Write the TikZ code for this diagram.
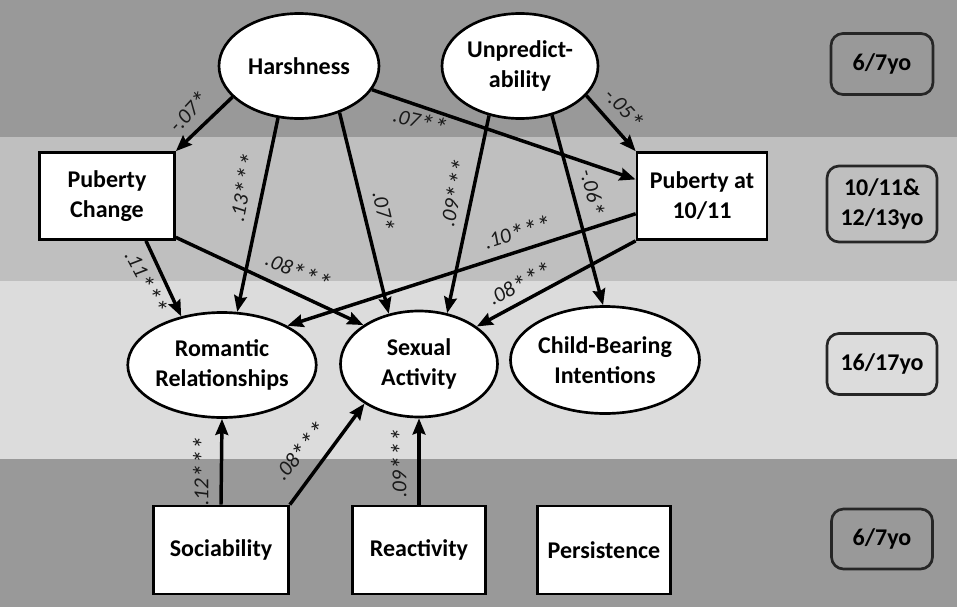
\documentclass[tikz,border=0pt]{standalone}
\usepackage{fontspec}
\setmainfont{Carlito}
\usetikzlibrary{shapes.geometric,arrows.meta}
\definecolor{bandA}{HTML}{999999}
\definecolor{bandB}{HTML}{BFBFBF}
\definecolor{bandC}{HTML}{DCDCDC}
\newcommand{\stars}[1]{\raisebox{-3.5pt}{\fontsize{21}{21}\selectfont #1}}
\begin{document}
\begin{tikzpicture}[x=0.75pt,y=-0.75pt,
  latent/.style={ellipse,draw=black,line width=2pt,fill=white,inner sep=0pt,align=center,font=\bfseries\fontsize{18}{22.5}\selectfont},
  observed/.style={rectangle,draw=black,line width=2pt,fill=white,inner sep=0pt,align=center,font=\bfseries\fontsize{18}{22.5}\selectfont},
  agebox/.style={rectangle,rounded corners=9pt,draw=black!85,line width=2pt,inner sep=0pt,align=center,font=\bfseries\fontsize{18}{22.5}\selectfont},
  arr/.style={line width=2.6pt,-{Stealth[length=12pt,width=9.5pt,inset=1.5pt]}},
  coef/.style={font=\itshape\fontsize{16}{18}\selectfont,text=black!90,inner sep=0pt}
]
\useasboundingbox (0,0) rectangle (957,607);
% bands
\fill[bandA] (0,0) rectangle (957,137);
\fill[bandB] (0,137) rectangle (957,281);
\fill[bandC] (0,281) rectangle (957,459);
\fill[bandA] (0,459) rectangle (957,607);

% nodes
\node[latent,minimum width=120pt,minimum height=78.75pt] (harsh) at (299,66) {Harshness};
\node[latent,minimum width=117pt,minimum height=78.75pt] (unpred) at (520,66) {Unpredict-\\ability};
\node[observed,minimum width=101.25pt,minimum height=65.25pt] (pubch) at (107,196) {Puberty\\Change};
\node[observed,minimum width=97.5pt,minimum height=65.25pt] (pub) at (702,196) {Puberty at\\10/11};
\node[latent,minimum width=120pt,minimum height=78.75pt] (rom) at (222,365) {Romantic\\Relationships};
\node[latent,minimum width=117.75pt,minimum height=79.5pt] (sex) at (419,364) {Sexual\\Activity};
\node[latent,minimum width=117pt,minimum height=80.25pt] (child) at (605,360) {Child-Bearing\\Intentions};
\node[observed,minimum width=101.25pt,minimum height=66pt] (soc) at (221,550) {Sociability};
\node[observed,minimum width=99.75pt,minimum height=66pt] (react) at (419,550) {Reactivity};
\node[observed,minimum width=99.75pt,minimum height=66pt] (pers) at (604,550) {Persistence};

\node[agebox,minimum width=76.5pt,minimum height=45.75pt] (age1) at (882,64) {6/7yo};
\node[agebox,minimum width=82.5pt,minimum height=57pt] (age2) at (882,204) {10/11\&\\12/13yo};
\node[agebox,minimum width=82.5pt,minimum height=45.75pt] (age3) at (882,364) {16/17yo};
\node[agebox,minimum width=75.75pt,minimum height=45pt] (age4) at (882,539) {6/7yo};

% paths
\draw[arr] (harsh.-155) -- (pubch.north east);
\draw[arr] (harsh.-112) -- (rom.74);
\draw[arr] (harsh.-49) -- (sex.121);
\draw[arr] (harsh.-18) -- (pub.166);
\draw[arr] (unpred.-24) -- (pub.north west);
\draw[arr] (unpred.-122) -- (sex.61);
\draw[arr] (unpred.-57) -- (child.92);
\draw[arr] (pubch.-49) -- (rom.130);
\draw[arr] (pubch.-31) -- (sex.145);
\draw[arr] (pub.-165) -- (rom.31);
\draw[arr] (pub.south west) -- (sex.33);
\draw[arr] (soc.north) -- (rom.south);
\draw[arr] (soc.north east) -- (sex.-144);
\draw[arr] (react.north) -- (sex.south);

% coefficients
\node[coef,rotate=47] (c1) at (190,113) {-.07\stars{*}};
\node[coef,rotate=79] (c2) at (245,188) {.13\stars{***}};
\node[coef,rotate=-77] (c3) at (382,212) {.07\stars{*}};
\node[coef,rotate=-13] (c4) at (420,123) {.07\stars{**}};
\node[coef,rotate=-47] (c5) at (623,110) {-.05\stars{*}};
\node[coef,rotate=78] (c6) at (456,193) {.09\stars{***}};
\node[coef,rotate=-75] (c7) at (591,193) {-.06\stars{*}};
\node[coef,rotate=-62] (c8) at (145,283) {.11\stars{***}};
\node[coef,rotate=-22] (c9) at (298,273) {.08\stars{***}};
\node[coef,rotate=18] (c10) at (518,234) {.10\stars{***}};
\node[coef,rotate=28] (c11) at (521,285) {.08\stars{***}};
\node[coef,rotate=90] (c12) at (203,471) {.12\stars{***}};
\node[coef,rotate=50] (c13) at (302,452) {.08\stars{***}};
\node[coef,rotate=90] (c14) at (401,463) {.09\stars{***}};
\end{tikzpicture}
\end{document}
